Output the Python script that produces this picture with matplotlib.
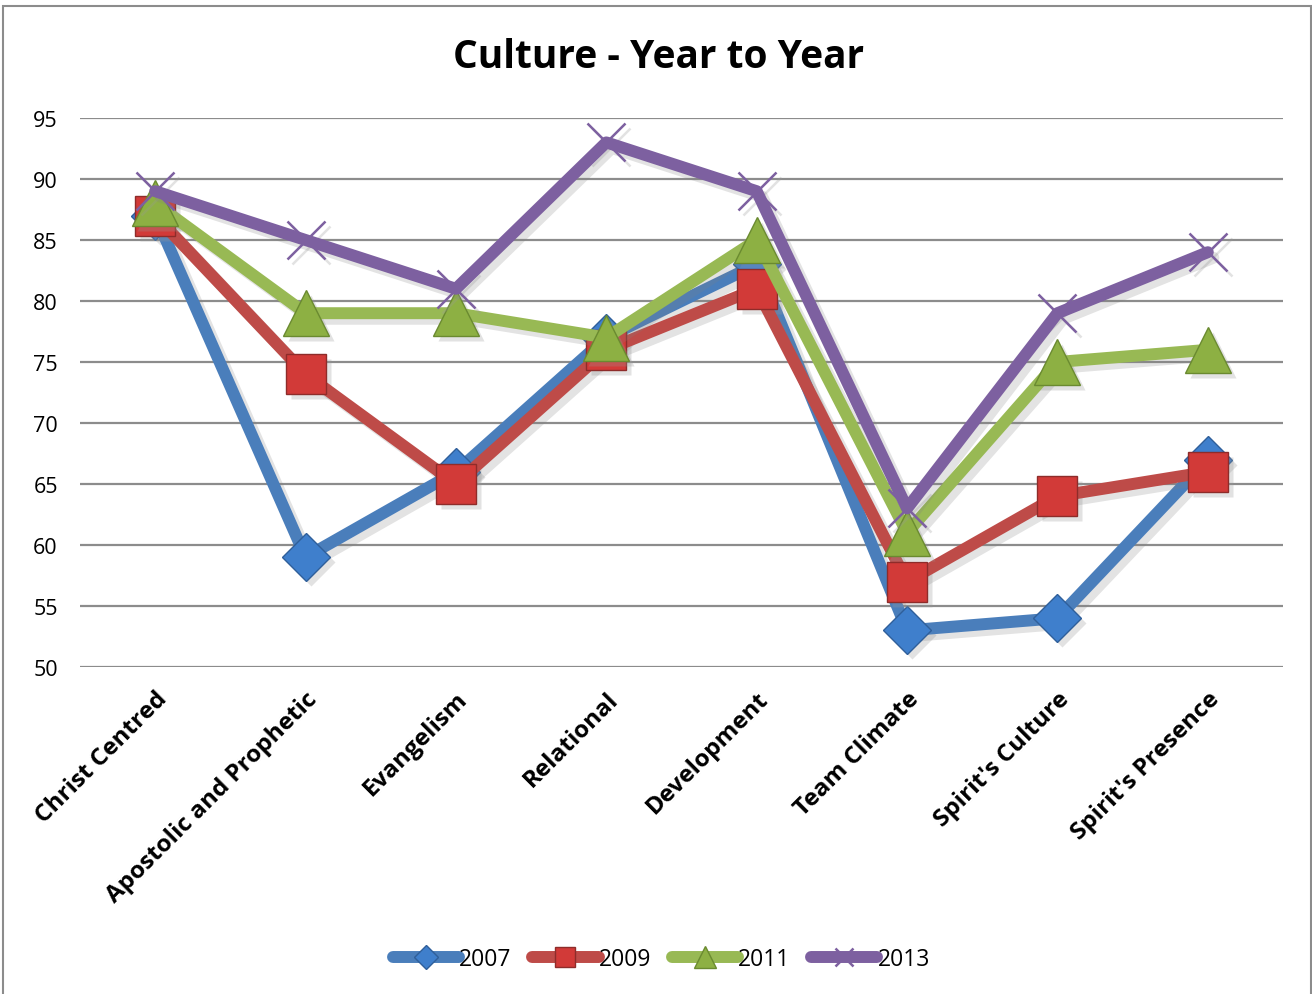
import matplotlib
matplotlib.use("Agg")
import matplotlib.pyplot as plt
import matplotlib.patheffects as pe
from matplotlib.patches import Rectangle
from matplotlib.transforms import offset_copy

categories = ["Christ Centred", "Apostolic and Prophetic", "Evangelism", "Relational",
              "Development", "Team Climate", "Spirit's Culture", "Spirit's Presence"]
years = ["2007", "2009", "2011", "2013"]
v2007 = [87, 59, 66, 77, 83, 53, 54, 67]
v2009 = [87, 74, 65, 76, 81, 57, 64, 66]
v2011 = [88, 79, 79, 77, 85, 61, 75, 76]
v2013 = [89, 85, 81, 93, 89, 63, 79, 84]
yticks = [50, 55, 60, 65, 70, 75, 80, 85, 90, 95]

plt.rcParams['font.family'] = ['Open Sans', 'DejaVu Sans']

fig = plt.figure(figsize=(13.12, 9.95), dpi=100)
ax = fig.add_axes([80 / 1312, 1 - 668 / 995, (1283 - 80) / 1312, (668 - 119) / 995])

styles = [
    dict(color="#4A7EBB", marker="D", mfc="#3F7FCC", mec="#2F5F9A", ms=24, mew=1.0),
    dict(color="#BE4B48", marker="s", mfc="#D23A38", mec="#8E2C2A", ms=29, mew=1.0),
    dict(color="#98B954", marker="^", mfc="#8DB043", mec="#6A8A30", ms=33, mew=1.0),
    dict(color="#7D60A0", marker="x", mfc="#7D60A0", mec="#7D60A0", ms=27, mew=1.8),
]
series = [v2007, v2009, v2011, v2013]
x = list(range(len(categories)))

line_shadow = [pe.SimpleLineShadow(offset=(4, -4), shadow_color="#808080", alpha=0.22), pe.Normal()]
shadow_tr = offset_copy(ax.transData, fig=fig, x=5, y=-5, units="dots")

for i, (vals, st, yr) in enumerate(zip(series, styles, years)):
    z = 3 + 2 * i
    # soft drop shadow under the markers
    ax.plot(x, vals, ls="none", marker=st["marker"], markersize=st["ms"],
            markerfacecolor="#9A9A9A", markeredgecolor="#9A9A9A" if st["marker"] == "x" else "none",
            markeredgewidth=st["mew"], alpha=0.28, transform=shadow_tr, zorder=z - 0.5)
    ax.plot(x, vals, color=st["color"], lw=8.6, solid_capstyle="round", solid_joinstyle="round",
            zorder=z, path_effects=line_shadow)
    ax.plot(x, vals, ls="none", marker=st["marker"], markersize=st["ms"],
            markerfacecolor=st["mfc"], markeredgecolor=st["mec"],
            markeredgewidth=st["mew"], zorder=z + 0.5)

# legend entries combine the series line and its marker
handles = [plt.Line2D([], [], color=st["color"], lw=8.6, solid_capstyle="round",
                      marker=st["marker"], markersize=st["ms"] * 0.5,
                      markerfacecolor=st["mfc"], markeredgecolor=st["mec"],
                      markeredgewidth=st["mew"])
           for st in styles]

ax.set_xlim(-0.5, len(categories) - 0.5)
ax.set_ylim(50, 95)
ax.set_yticks(yticks)
ax.set_yticklabels([str(t) for t in yticks], fontsize=15.5)
ax.grid(axis="y", color="#8C8C8C", lw=1.6)
ax.set_axisbelow(True)
for s in ax.spines.values():
    s.set_visible(False)
ax.tick_params(axis="both", length=0)
ax.tick_params(axis="y", pad=16)
ax.set_xticks(x)
ax.set_xticklabels(categories, rotation=45, ha="right", rotation_mode="anchor",
                   fontsize=17.5, fontweight="bold")
ax.tick_params(axis="x", pad=14)

fig.text(0.502, 1 - 58 / 995, "Culture - Year to Year", ha="center", va="center",
         fontsize=28, fontweight="bold")

fig.legend(handles, years, loc="center", bbox_to_anchor=(0.504, 1 - 960 / 995), ncol=4,
           frameon=False, fontsize=16.5, handlelength=2.9, columnspacing=0.9,
           handletextpad=0.0)

fig.patches.append(Rectangle((3 / 1312, -0.01), 1308 / 1312, 1 - 7 / 995 + 0.01,
                             transform=fig.transFigure, fill=False, edgecolor="#8C8C8C", lw=1.5))

fig.savefig("out.png", dpi=100)
